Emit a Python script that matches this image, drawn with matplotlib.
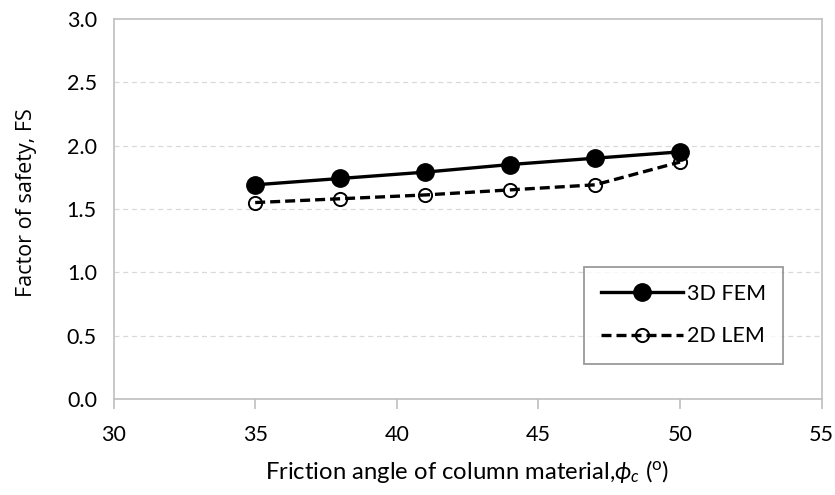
import matplotlib
matplotlib.use("Agg")
import matplotlib.pyplot as plt

friction_angle = [35, 38, 41, 44, 47, 50]
fs_3d_fem = [1.69, 1.74, 1.79, 1.85, 1.90, 1.95]
fs_2d_lem = [1.55, 1.58, 1.61, 1.65, 1.69, 1.87]
x_ticks = [30, 35, 40, 45, 50, 55]
y_ticks = [0.0, 0.5, 1.0, 1.5, 2.0, 2.5, 3.0]

plt.rcParams['font.family'] = ['Lato', 'DejaVu Sans']
plt.rcParams['mathtext.fontset'] = 'custom'
plt.rcParams['mathtext.it'] = 'Lato:italic'
plt.rcParams['mathtext.rm'] = 'Lato'

fig = plt.figure(figsize=(8.35, 4.95), dpi=100)
ax = fig.add_axes([0.136, 0.194, 0.848, 0.768])

ax.plot(friction_angle, fs_3d_fem, color='black', lw=2.4, marker='o',
        markersize=12.5, markerfacecolor='black', label='3D FEM', zorder=3)
ax.plot(friction_angle, fs_2d_lem, color='black', lw=2.4, ls=(0, (3, 1.5)),
        marker='o', markersize=9.5, markerfacecolor='none',
        markeredgewidth=1.4, label='2D LEM', zorder=3)

ax.set_xlim(30, 55)
ax.set_ylim(0, 3.0)
ax.set_xticks(x_ticks)
ax.set_yticks(y_ticks)
ax.set_yticklabels([f"{v:.1f}" for v in y_ticks])

for v in y_ticks[1:-1]:
    ax.axhline(v, color='#d9d9d9', lw=0.9, ls=(0, (4, 3)), zorder=1)

for side in ['top', 'right', 'left', 'bottom']:
    ax.spines[side].set_color('#bfbfbf')
    ax.spines[side].set_linewidth(1.2)
ax.tick_params(axis='x', direction='out', length=7, color='#bfbfbf',
               width=1.2, labelsize=15.5, pad=12)
ax.tick_params(axis='y', length=0, labelsize=15.5, pad=12)

ax.set_xlabel(r"Friction angle of column material,$\phi_c$ ($^{\rm o}$)",
              fontsize=17.2, labelpad=9)
ax.set_ylabel("Factor of safety, FS", fontsize=15.5, family='Open Sans')
ax.yaxis.set_label_coords(-0.108, 0.516)

leg = ax.legend(loc='lower right', bbox_to_anchor=(0.946, 0.093), fontsize=15.5,
                frameon=True, fancybox=False, edgecolor='#808080',
                borderpad=0.8, labelspacing=1.05, handlelength=3.8,
                handletextpad=0.2, borderaxespad=0)
leg.get_frame().set_linewidth(1.3)

fig.savefig("out.png", dpi=100)
